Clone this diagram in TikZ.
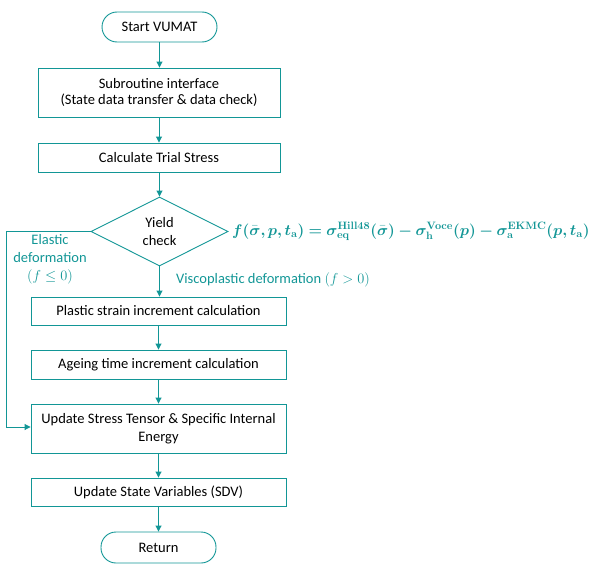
\documentclass[tikz,border=0pt]{standalone}
\usepackage{amsmath,bm}
\usepackage{fontspec}
\setmainfont{Carlito}
\usetikzlibrary{arrows.meta,shapes.geometric,calc}
\definecolor{teal1}{RGB}{18,150,150}
\newcommand{\yieldeq}{\scalebox{1.07}{$\bm{f(\bar{\sigma},p,t_{\mathbf{a}})=\sigma_{\mathbf{eq}}^{\mathbf{Hill48}}(\bar{\sigma})-\sigma_{\mathbf{h}}^{\mathbf{Voce}}(p)-\sigma_{\mathbf{a}}^{\mathbf{EKMC}}(p,t_{\mathbf{a}})}$}}
\newcommand{\eqsize}{\fontsize{14.4}{18}\selectfont}
\newcommand{\mainsize}{\fontsize{14.5}{18}\selectfont}
\newcommand{\tightsize}{\fontsize{14.5}{16}\selectfont}
\begin{document}
\begin{tikzpicture}[x=1pt,y=-1pt,
  every node/.style={font=\mainsize},
  procbox/.style={draw=teal1,line width=0.9pt,rectangle,minimum width=255pt,align=center,inner sep=0pt},
  termbox/.style={draw=teal1,line width=0.9pt,rounded corners=15pt,minimum width=115pt,minimum height=30pt,inner sep=0pt},
  decbox/.style={draw=teal1,line width=0.9pt,diamond,aspect=2,minimum width=137pt,minimum height=69pt,inner sep=0pt,align=center},
  flow/.style={draw=teal1,line width=0.9pt,-{Triangle[length=6pt,width=6pt]}},
  lbl/.style={text=teal1,inner sep=0pt},
  eqlbl/.style={text=teal1,inner sep=0pt,font=\eqsize}]
\useasboundingbox (0,0) rectangle (597,570);
\node[termbox] (start) at (159.5,27) {Start VUMAT};
\node[procbox,minimum width=242pt,minimum height=49pt,font=\tightsize] (sub) at (159,92.5) {Subroutine interface\\(State data transfer \& data check)};
\node[procbox,minimum width=242pt,minimum height=29pt] (trial) at (159,157.5) {Calculate Trial Stress};
\node[decbox] (yield) at (159.5,231.5) {Yield\\check};
\node[procbox,minimum height=28pt] (plast) at (158.5,311) {Plastic strain increment calculation};
\node[procbox,minimum height=29pt] (age) at (158.5,364.5) {Ageing time increment calculation};
\node[procbox,minimum height=49pt] (upd) at (158.5,428.5) {Update Stress Tensor \& Specific Internal\\Energy};
\node[procbox,minimum height=28pt] (sdv) at (158.5,492) {Update State Variables (SDV)};
\node[termbox,minimum height=31pt] (ret) at (158.5,547.5) {Return};
\coordinate (c1) at (6,231.5);
\coordinate (c2) at (6,427);
\draw[flow] (start) -- (sub.north -| start);
\draw[flow] (sub) -- (trial);
\draw[flow] (trial.south -| yield) -- (yield);
\draw[flow] (yield) -- (plast.north -| yield);
\draw[flow] (plast) -- (age);
\draw[flow] (age) -- (upd);
\draw[flow] (upd) -- (sdv);
\draw[flow] (sdv) -- (ret);
\draw[flow] (yield.west) -- (c1) -- (c2) -- (c2 -| upd.west);
\node[lbl,align=center] (el) at (50,259) {Elastic\\deformation\\$(f\leq 0)$};
\node[lbl,anchor=west] (vp) at (176,280) {Viscoplastic deformation $(f>0)$};
\node[eqlbl,anchor=west] (eq) at (232,231.5) {\yieldeq};
\end{tikzpicture}
\end{document}
